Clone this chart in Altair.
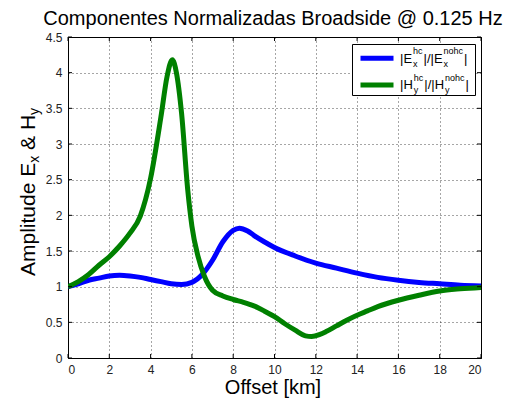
import altair as alt
import pandas as pd

# ---------------- data ----------------
series_names = ["|Ex_hc|/|Ex_nohc|", "|Hy_hc|/|Hy_nohc|"]

x_blue = [0, 0.5, 1, 1.5, 2, 2.5, 3, 3.5, 4, 4.5, 5, 5.5, 6, 6.5, 7, 7.5, 8, 8.3, 8.7,
          9, 9.5, 10, 11, 12, 13, 14, 15, 16, 17, 18, 19, 20]
y_blue = [1.0, 1.04, 1.09, 1.12, 1.15, 1.16, 1.15, 1.13, 1.10, 1.07, 1.04, 1.03, 1.06,
          1.17, 1.37, 1.63, 1.79, 1.82, 1.78, 1.72, 1.63, 1.55, 1.43, 1.33, 1.26, 1.19,
          1.13, 1.09, 1.06, 1.04, 1.02, 1.01]

x_green = [0, 0.5, 1, 1.5, 2, 2.5, 3, 3.5, 4, 4.5, 4.8, 5.05, 5.25, 5.5, 5.8, 6.0, 6.3,
           6.6, 7, 7.5, 8, 8.5, 9, 9.5, 10, 10.5, 11, 11.5, 11.8, 12.2, 12.5, 13, 13.5,
           14, 14.5, 15, 16, 17, 18, 19, 20]
y_green = [1.0, 1.07, 1.17, 1.30, 1.42, 1.57, 1.75, 1.99, 2.52, 3.38, 3.95, 4.18, 4.00,
           3.43, 2.35, 1.85, 1.42, 1.15, 0.95, 0.87, 0.82, 0.78, 0.73, 0.66, 0.58, 0.48,
           0.39, 0.31, 0.30, 0.33, 0.37, 0.45, 0.53, 0.60, 0.66, 0.72, 0.81, 0.88, 0.94,
           0.97, 0.99]

x_ticks = list(range(0, 21, 2))
y_ticks = [0, 0.5, 1, 1.5, 2, 2.5, 3, 3.5, 4, 4.5]

title_text = "Componentes Normalizadas Broadside @ 0.125 Hz"
x_title = "Offset [km]"
colors = ["#0000ff", "#008000"]

# ---------------- layout ----------------
W, H = 413, 321
FONT = "Liberation Sans"

AFM = {'|': 260, 'E': 667, 'H': 722, '/': 278, 'h': 556, 'c': 500, 'n': 556, 'o': 556,
       'x': 500, 'y': 500, ' ': 278, '&': 667, 'A': 667, 'm': 833,
       'p': 556, 'l': 222, 'i': 222, 't': 278, 'u': 556, 'd': 556, 'e': 556}


def tw(s, size):
    return sum(AFM.get(ch, 556) for ch in s) * size / 1000.0


def txt(s, x, y, size, angle=0, align="left", color="black"):
    return alt.Chart(pd.DataFrame({"t": [s]})).mark_text(
        text=s, font=FONT, fontSize=size, align=align, baseline="alphabetic",
        angle=angle, color=color
    ).encode(x=alt.value(x), y=alt.value(y))


df = pd.concat([
    pd.DataFrame({"x": x_blue, "y": y_blue, "series": series_names[0], "k": 0}),
    pd.DataFrame({"x": x_green, "y": y_green, "series": series_names[1], "k": 1}),
])

xs = alt.Scale(domain=[0, 20], nice=False, zero=False)
ys = alt.Scale(domain=[0, 4.5], nice=False)
x_axis = alt.Axis(values=x_ticks, format="d", title=None)
y_axis = alt.Axis(values=y_ticks, format="~g", title=None)

lines = alt.Chart(df).mark_line(strokeWidth=5, interpolate="monotone", clip=True).encode(
    x=alt.X("x:Q", scale=xs, axis=x_axis),
    y=alt.Y("y:Q", scale=ys, axis=y_axis),
    color=alt.Color("series:N", scale=alt.Scale(domain=series_names, range=colors), legend=None),
    order="k:Q",
)

txd = pd.DataFrame({"v": x_ticks})
tyd = pd.DataFrame({"v": y_ticks})
tick_layers = [
    alt.Chart(txd).mark_rule(color="black").encode(
        x=alt.X("v:Q", scale=xs, axis=x_axis), y=alt.value(H), y2=alt.value(H - 4)),
    alt.Chart(txd).mark_rule(color="black").encode(
        x=alt.X("v:Q", scale=xs, axis=x_axis), y=alt.value(0), y2=alt.value(4)),
    alt.Chart(tyd).mark_rule(color="black").encode(
        y=alt.Y("v:Q", scale=ys, axis=y_axis), x=alt.value(0), x2=alt.value(4)),
    alt.Chart(tyd).mark_rule(color="black").encode(
        y=alt.Y("v:Q", scale=ys, axis=y_axis), x=alt.value(W), x2=alt.value(W - 4)),
]

# legend box
leg_box = alt.Chart(pd.DataFrame({"a": [0]})).mark_rect(fill="white", stroke="black", strokeWidth=1).encode(
    x=alt.value(284.5), x2=alt.value(407.5), y=alt.value(7.5), y2=alt.value(58.5))


def leg_line(yv, col):
    return alt.Chart(pd.DataFrame({"a": [0]})).mark_rule(color=col, strokeWidth=5).encode(
        x=alt.value(292.5), x2=alt.value(325.5), y=alt.value(yv))


def leg_label(letter, sub, base_y, x0=332):
    M, S = 13, 9
    out = []
    x = x0
    s1 = "|" + letter
    out.append(txt(s1, x, base_y, M))
    x += tw(s1, M) + 1
    out.append(txt("hc", x, base_y - 8.5, S))
    out.append(txt(sub, x, base_y + 4, S))
    x += max(tw("hc", S), tw(sub, S)) + 1
    s2 = "|/|" + letter
    out.append(txt(s2, x, base_y, M))
    x += tw(s2, M) + 1
    out.append(txt("nohc", x, base_y - 8.5, S))
    out.append(txt(sub, x, base_y + 4, S))
    x += max(tw("nohc", S), tw(sub, S)) + 1
    out.append(txt("|", x, base_y, M))
    return out


legend_layers = [leg_box, leg_line(21.3, colors[0]), leg_line(48, colors[1])]
legend_layers += leg_label("E", "x", 25.7)
legend_layers += leg_label("H", "y", 52.4)

# titles
title_layers = [
    txt(title_text, 205, -12, 20, align="center"),
    txt(x_title, 205, 357, 20, align="center"),
]
# rotated y title with subscripts
yb = 239
BX, SX = -33, -29
parts = [("Amplitude E", 21, BX, 0), ("x", 14, SX, 0), ("& H", 21, BX, tw(" ", 21)), ("y", 14, SX, 0)]
for s, size, bx, gap in parts:
    yb -= gap
    title_layers.append(txt(s, bx, yb, size, angle=270))
    yb -= tw(s, size)

chart = alt.layer(lines, *tick_layers, *legend_layers, *title_layers).properties(
    width=W, height=H,
    autosize=alt.AutoSizeParams(type="none"),
    padding={"left": 60, "top": 29, "right": 28, "bottom": 41},
).configure_view(stroke="black", strokeWidth=1).configure_axis(
    domain=False, ticks=False, grid=True, gridColor="#000", gridDash=[1, 3], gridOpacity=0.7,
    labelFont=FONT, labelFontSize=12, labelColor="#222", labelPadding=6,
)

chart.save("out.html", embed_options={"renderer": "svg", "actions": False})
